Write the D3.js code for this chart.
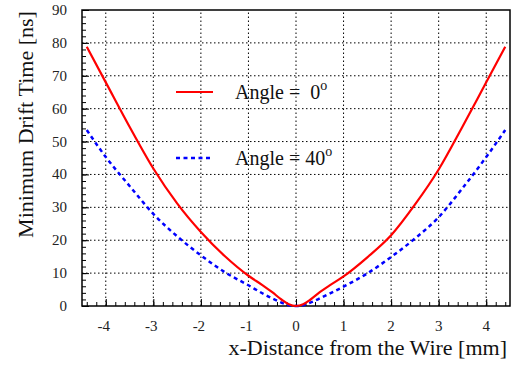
<!DOCTYPE html>
<html>
<head>
<meta charset="utf-8">
<script src="https://cdn.jsdelivr.net/npm/d3@7.9.0/dist/d3.min.js"></script>
<style>
  body { margin: 0; background: #fff; }
  svg text { font-family: "Liberation Serif", "Times New Roman", serif; }
</style>
</head>
<body>
<svg id="chart" width="513" height="365"></svg>
<script>
// data
const xValues   = [-4.4, -4.0, -3.5, -3.0, -2.5, -2.0, -1.5, -1.0, -0.7, -0.5, -0.3, -0.15, 0, 0.15, 0.3, 0.5, 0.7, 1.0, 1.5, 2.0, 2.5, 3.0, 3.5, 4.0, 4.4];
const angle0    = [78.8, 68.0, 54.5, 41.8, 31.2, 22.5, 15.2, 9.2, 6.3, 4.2, 1.9, 0.5, 0, 0.5, 1.9, 4.2, 6.2, 9.0, 14.8, 21.5, 30.8, 41.5, 54.5, 68.0, 78.8];
const angle40   = [53.5, 45.3, 36.5, 28.0, 21.2, 15.4, 10.3, 6.3, 3.8, 2.3, 1.0, 0.25, 0, 0.25, 1.0, 2.3, 3.7, 5.9, 9.9, 14.9, 20.5, 27.0, 35.8, 45.3, 53.5];
const xTicks    = [-4, -3, -2, -1, 0, 1, 2, 3, 4];
const yTicks    = [0, 10, 20, 30, 40, 50, 60, 70, 80, 90];
const seriesNames = ['Angle =  0', 'Angle = 40'];

const FONT = '"Liberation Serif", "Times New Roman", serif';
const margin = { top: 10, right: 3, bottom: 59, left: 82 };
const width = 513, height = 365;

const svg = d3.select('#chart');

const x = d3.scaleLinear().domain([-4.5, 4.5]).range([margin.left, width - margin.right]);
const y = d3.scaleLinear().domain([0, 90]).range([height - margin.bottom, margin.top]);

// dotted grid
const grid = svg.append('g');
grid.selectAll('line.gx')
  .data(xTicks)
  .join('line')
  .attr('x1', d => x(d)).attr('x2', d => x(d))
  .attr('y1', y(0)).attr('y2', y(90))
  .attr('stroke', '#000').attr('stroke-width', 1).attr('stroke-dasharray', '1.5,2.5');
grid.selectAll('line.gy')
  .data(yTicks.slice(1, -1))
  .join('line')
  .attr('x1', x(-4.5)).attr('x2', x(4.5))
  .attr('y1', d => y(d)).attr('y2', d => y(d))
  .attr('stroke', '#000').attr('stroke-width', 1).attr('stroke-dasharray', '1.5,2.5');

// axes, ticks pointing inward
const xAxis = svg.append('g').attr('transform', `translate(0,${y(0)})`);
xAxis.call(d3.axisTop(x).tickValues(d3.range(-4.4, 4.41, 0.2)).tickSize(4).tickFormat(''));
xAxis.append('g').call(d3.axisTop(x).tickValues(xTicks).tickSize(7).tickFormat(''));
xAxis.selectAll('.domain').remove();
xAxis.selectAll('line').attr('stroke', '#000');

const xLabels = svg.append('g');
xLabels.selectAll('text')
  .data(xTicks)
  .join('text')
  .attr('x', d => x(d) - (d < 0 ? 2 : 0))
  .attr('y', 331)
  .attr('text-anchor', 'middle')
  .attr('font-size', 15)
  .attr('fill', '#222')
  .style('font-family', FONT)
  .text(d => d);

const yAxis = svg.append('g').attr('transform', `translate(${x(-4.5)},0)`);
yAxis.call(d3.axisRight(y).tickValues(d3.range(0, 90.1, 2)).tickSize(4).tickFormat(''));
yAxis.append('g').call(d3.axisRight(y).tickValues(yTicks).tickSize(7).tickFormat(''));
yAxis.selectAll('.domain').remove();
yAxis.selectAll('line').attr('stroke', '#000');

const yLabels = svg.append('g');
yLabels.selectAll('text')
  .data(yTicks)
  .join('text')
  .attr('x', 67)
  .attr('y', d => y(d) + 5)
  .attr('text-anchor', 'end')
  .attr('font-size', 15)
  .attr('fill', '#222')
  .style('font-family', FONT)
  .text(d => d);

// frame
svg.append('rect')
  .attr('x', x(-4.5)).attr('y', y(90))
  .attr('width', x(4.5) - x(-4.5)).attr('height', y(0) - y(90))
  .attr('fill', 'none').attr('stroke', '#000').attr('stroke-width', 1.5);

// curves
const line = d3.line()
  .x(d => x(d[0]))
  .y(d => y(d[1]))
  .curve(d3.curveMonotoneX);

svg.append('path')
  .datum(xValues.map((v, i) => [v, angle40[i]]))
  .attr('d', line)
  .attr('fill', 'none')
  .attr('stroke', '#0000ff')
  .attr('stroke-width', 2.5)
  .attr('stroke-dasharray', '4,3.5');

svg.append('path')
  .datum(xValues.map((v, i) => [v, angle0[i]]))
  .attr('d', line)
  .attr('fill', 'none')
  .attr('stroke', '#ff0000')
  .attr('stroke-width', 2.2);

// legend
const legend = svg.append('g');
const legendRows = [
  { name: seriesNames[0], color: '#ff0000', dash: null, y: 92 },
  { name: seriesNames[1], color: '#0000ff', dash: '4,3.5', y: 158 }
];
legendRows.forEach(r => {
  legend.append('line')
    .attr('x1', 176).attr('x2', 213)
    .attr('y1', r.y).attr('y2', r.y)
    .attr('stroke', r.color)
    .attr('stroke-width', r.dash ? 2.5 : 2.2)
    .attr('stroke-dasharray', r.dash);
  const t = legend.append('text')
    .attr('x', 235).attr('y', r.y + 7)
    .attr('font-size', 20)
    .attr('fill', '#111')
    .style('font-family', FONT)
    .style('white-space', 'pre');
  t.append('tspan').text(r.name);
  t.append('tspan').attr('dy', -9).attr('font-size', 14).text('o');
});

// axis titles
svg.append('text')
  .attr('x', 507).attr('y', 355)
  .attr('text-anchor', 'end')
  .attr('font-size', 22)
  .attr('fill', '#111')
  .style('font-family', FONT)
  .text('x-Distance from the Wire [mm]');

svg.append('text')
  .attr('transform', 'translate(33,124.5) rotate(-90)')
  .attr('text-anchor', 'middle')
  .attr('font-size', 22)
  .attr('fill', '#111')
  .style('font-family', FONT)
  .text('Minimum Drift Time [ns]');
</script>
</body>
</html>
